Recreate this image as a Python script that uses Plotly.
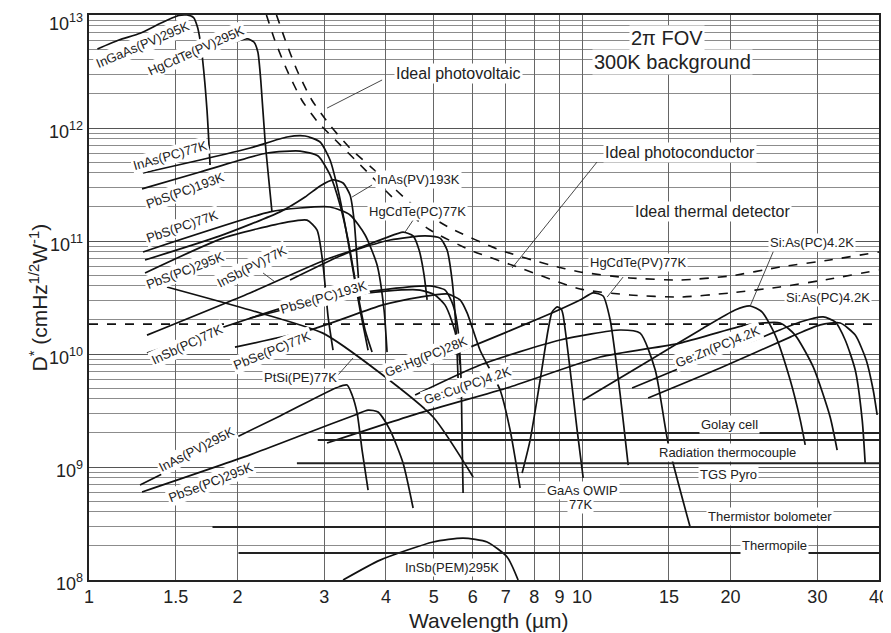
import plotly.graph_objects as go

# ---------------- data (wavelength in um, D* in cm Hz^1/2 W^-1) ----------------
ingaas_pv295_x = [1.04, 1.15, 1.27, 1.40, 1.52, 1.58, 1.63, 1.66, 1.68, 1.70, 1.735, 1.76]
ingaas_pv295_y = [5.0e12, 6.0e12, 6.9e12, 8.5e12, 9.9e12, 1.0e13, 9.5e12, 7.8e12, 6.0e12, 4.0e12, 1.44e12, 4.7e11]

hgcdte_pv295_x = [1.374, 1.68, 2.025, 2.10, 2.16, 2.20, 2.23, 2.275, 2.35]
hgcdte_pv295_y = [2.94e12, 4.43e12, 6.0e12, 6.14e12, 5.77e12, 4.71e12, 2.66e12, 7.83e11, 1.81e11]

inas_pc77_x = [1.287, 1.68, 2.121, 2.521, 2.743, 2.942, 3.082, 3.199, 3.306, 3.416, 3.546, 3.681]
inas_pc77_y = [4.0e11, 5.21e11, 6.65e11, 8.32e11, 8.49e11, 7.52e11, 5.21e11, 2.83e11, 1.39e11, 6.13e10, 2.45e10, 1.08e10]

pbs_pc193_x = [1.281, 1.68, 2.297, 2.679, 2.914, 3.082, 3.229, 3.353, 3.480, 3.630, 3.750]
pbs_pc193_y = [2.89e11, 4.08e11, 6.01e11, 6.25e11, 5.65e11, 3.84e11, 2.08e11, 1.02e11, 4.08e10, 1.63e10, 1.04e10]

pbs_pc77_x = [1.287, 2.328, 2.679, 3.082, 3.384, 3.630, 3.839, 3.966, 4.022]
pbs_pc77_y = [8.0e10, 1.81e11, 1.96e11, 2.00e11, 1.70e11, 1.13e11, 6.13e10, 2.45e10, 1.04e10]

inas_pv193_x = [1.299, 1.844, 2.44, 2.743, 2.942, 3.125, 3.275, 3.384, 3.448, 3.497, 3.546]
inas_pv193_y = [6.79e10, 1.11e11, 1.81e11, 2.45e11, 3.07e11, 3.47e11, 3.26e11, 2.55e11, 1.53e11, 6.79e10, 3.01e10]

pbs_pc295_x = [1.299, 1.870, 2.521, 2.768, 2.901, 2.983, 3.054, 3.125]
pbs_pc295_y = [5.21e10, 1.06e11, 1.47e11, 1.53e11, 1.25e11, 6.13e10, 2.13e10, 1.08e10]

insb_pv77_x = [1.311, 2.121, 3.082, 4.079, 4.803, 5.152, 5.323, 5.448, 5.551, 5.603]
insb_pv77_y = [1.47e10, 3.47e10, 7.07e10, 1.02e11, 1.11e11, 1.06e11, 8.32e10, 4.52e10, 1.63e10, 6.13e9]

hgcdte_pc77_x = [2.557, 3.229, 3.985, 4.335, 4.542, 4.671, 4.781, 4.849]
hgcdte_pc77_y = [4.52e10, 7.36e10, 1.06e11, 1.20e11, 1.11e11, 8.32e10, 5.0e10, 3.01e10]

insb_pc77_x = [1.311, 2.679, 3.893, 4.916, 5.274, 5.473, 5.603, 5.683, 5.710, 5.736]
insb_pc77_y = [1.02e10, 2.83e10, 3.68e10, 4.0e10, 3.68e10, 2.72e10, 1.63e10, 5.89e9, 1.73e9, 5.89e8]

pbse_pc193_x = [2.12, 3.12, 4.0, 4.69, 5.03, 5.27, 5.45, 5.58, 5.66]
pbse_pc193_y = [2.08e10, 3.13e10, 3.60e10, 3.68e10, 3.33e10, 2.72e10, 1.92e10, 1.30e10, 8.0e9]

pbse_pc77_x = [1.977, 2.807, 3.948, 4.692, 5.323, 5.656, 5.845, 6.21, 6.818, 7.145, 7.486]
pbse_pc77_y = [1.15e10, 1.63e10, 2.72e10, 3.19e10, 3.40e10, 3.01e10, 2.31e10, 1.08e10, 4.80e9, 2.12e9, 6.52e8]

ptsi_pe77_x = [1.439, 2.121, 2.98, 3.893, 4.987, 6.011]
ptsi_pe77_y = [3.92e10, 2.45e10, 1.53e10, 6.79e9, 2.77e9, 8.16e8]

inas_pv295_x = [1.269, 1.68, 2.44, 3.199, 3.337, 3.416, 3.497, 3.579, 3.681]
inas_pv295_y = [6.93e8, 1.28e9, 2.83e9, 5.11e9, 5.32e9, 4.34e9, 3.01e9, 1.41e9, 6.25e8]

pbse_pc295_x = [1.281, 2.121, 2.807, 3.464, 3.681, 3.857, 4.079, 4.335, 4.542]
pbse_pc295_y = [6.01e8, 1.28e9, 2.04e9, 2.89e9, 3.19e9, 3.07e9, 2.12e9, 1.08e9, 4.34e8]

insb_pem295_x = [3.275, 3.893, 4.987, 5.736, 6.416, 7.045, 7.417]
insb_pem295_y = [1.0e8, 1.50e8, 2.17e8, 2.35e8, 2.17e8, 1.60e8, 1.0e8]

gaas_qwip77_x = [7.557, 7.845, 8.221, 8.531, 8.69, 8.898, 9.07, 9.151, 9.456, 9.770, 10.05]
gaas_qwip77_y = [8.86e8, 1.73e9, 5.89e9, 1.63e10, 2.35e10, 2.61e10, 2.50e10, 2.21e10, 7.22e9, 2.12e9, 8.0e8]

hgcdte_pv77_x = [4.542, 5.927, 8.221, 9.908, 10.53, 11.03, 11.40, 11.78, 12.11, 12.40]
hgcdte_pv77_y = [7.22e9, 1.15e10, 2.08e10, 3.01e10, 3.47e10, 3.26e10, 2.00e10, 7.22e9, 2.61e9, 1.04e9]

gehg_pc28_x = [4.585, 6.21, 9.024, 11.94, 13.11, 14.07, 14.94, 16.56]
gehg_pc28_y = [4.34e9, 8.0e9, 1.33e10, 1.63e10, 1.53e10, 7.22e9, 1.63e9, 2.94e8]

gecu_pc42_x = [3.039, 4.692, 7.145, 10.88, 15.81, 21.61, 25.21, 27.04, 29.42, 31.84, 32.90]
gecu_pc42_y = [1.63e9, 3.01e9, 5.11e9, 9.40e9, 1.25e10, 1.81e10, 1.88e10, 1.47e10, 7.68e9, 2.77e9, 1.41e9]

sias_a_x = [10.05, 13.74, 17.35, 20.43, 21.92, 23.18, 24.64, 26.42, 27.69, 28.34]
sias_a_y = [3.92e9, 8.86e9, 1.63e10, 2.45e10, 2.66e10, 2.35e10, 1.47e10, 5.89e9, 2.61e9, 1.57e9]

sias_b_x = [12.63, 17.35, 22.97, 27.69, 30.82, 32.60, 34.16, 35.80, 36.98, 37.50]
sias_b_y = [5.0e9, 8.86e9, 1.39e10, 1.92e10, 2.13e10, 1.92e10, 1.33e10, 7.22e9, 2.61e9, 1.08e9]

gezn_pc42_x = [13.61, 19.06, 26.42, 30.40, 33.37, 35.80, 37.68, 38.93, 39.66]
gezn_pc42_y = [4.08e9, 7.52e9, 1.41e10, 1.81e10, 1.88e10, 1.47e10, 8.86e9, 4.80e9, 2.89e9]

ideal_pv_x = [2.40, 2.50, 2.64, 2.83, 3.08, 3.38, 3.89, 4.54, 5.40, 6.82, 8.61, 9.91, 12.5, 15.8, 19.96, 25.2, 31.8, 40.0]
ideal_pv_y = [1.0e13, 6.01e12, 3.26e12, 1.77e12, 1.06e12, 6.66e11, 3.84e11, 2.08e11, 1.30e11, 8.32e10, 6.13e10, 5.32e10, 4.71e10, 4.52e10, 4.90e10, 5.89e10, 6.79e10, 8.0e10]

ideal_pc_x = [2.29, 2.38, 2.52, 2.70, 2.91, 3.16, 3.55, 4.08, 4.85, 5.93, 7.49, 9.91, 12.5, 15.8, 19.96, 25.2, 31.8, 40.0]
ideal_pc_y = [1.0e13, 6.01e12, 3.26e12, 1.77e12, 1.13e12, 7.83e11, 4.71e11, 2.55e11, 1.30e11, 8.32e10, 5.77e10, 3.76e10, 3.33e10, 3.19e10, 3.47e10, 3.92e10, 4.61e10, 5.54e10]

ideal_thermal_x = [1.0, 40.0]
ideal_thermal_y = [1.84e10, 1.84e10]

# thermal detectors: [start wavelength, end wavelength], level
golay_x, golay_y = [3.0, 40.0], [2.0e9, 2.0e9]
golay2_x, golay2_y = [2.91, 40.0], [1.73e9, 1.73e9]
thermocouple_x, thermocouple_y = [2.64, 40.0], [1.08e9, 1.08e9]
thermistor_x, thermistor_y = [1.78, 40.0], [2.94e8, 2.94e8]
thermopile_x, thermopile_y = [2.01, 40.0], [1.73e8, 1.73e8]

# leader lines (label -> curve)
leaders = [
    ([3.93, 3.039], [2.66e12, 1.50e12]),   # ideal photovoltaic
    ([10.72, 7.21], [5.0e11, 5.77e10]),    # ideal photoconductor
    ([3.75, 3.416], [3.13e11, 2.45e11]),   # InAs(PV)193K
    ([4.542, 4.375], [1.53e11, 1.20e11]),  # HgCdTe(PC)77K
    ([2.254, 2.384], [5.21e10, 4.34e10]),  # InSb(PV)77K
    ([3.199, 3.431], [6.52e9, 9.22e9]),    # PtSi(PE)77K
    ([12.11, 11.24], [4.80e10, 3.19e10]),  # HgCdTe(PV)77K
    ([24.64, 21.92], [8.86e10, 2.66e10]),  # Si:As upper
]

x_ticks = [1, 1.5, 2, 3, 4, 5, 6, 7, 8, 9, 10, 15, 20, 30, 40]
x_ticktext = ["1", "1.5", "2", "3", "4", "5", "6", "7", "8", "9", "10", "15", "20", "30", "40"]
y_ticks = [1e8, 1e9, 1e10, 1e11, 1e12, 1e13]
y_ticktext = ["10<sup>8</sup>", "10<sup>9</sup>", "10<sup>10</sup>", "10<sup>11</sup>", "10<sup>12</sup>", "10<sup>13</sup>"]
y_minor = [m * 10 ** e for e in range(8, 13) for m in range(2, 10)]

# labels: text, log10(x), log10(y), angle, size
labels = [
    ("InGaAs(PV)295K", 0.1095, 12.735, -23, 13),
    ("HgCdTe(PV)295K", 0.217, 12.690, -24, 13),
    ("InAs(PC)77K", 0.1643, 11.761, -16, 13),
    ("PbS(PC)193K", 0.1947, 11.451, -20, 13),
    ("PbS(PC)77K", 0.1886, 11.124, -19, 13),
    ("PbS(PC)295K", 0.1947, 10.743, -21, 13),
    ("InSb(PV)77K", 0.3306, 10.770, -27, 13),
    ("PbSe(PC)193K", 0.4746, 10.504, -16, 13),
    ("InAs(PV)193K", 0.6673, 11.540, 0, 13),
    ("HgCdTe(PC)77K", 0.6653, 11.257, 0, 13),
    ("InSb(PC)77K", 0.1988, 10.080, -25, 13),
    ("PbSe(PC)77K", 0.3712, 10.035, -22, 13),
    ("PtSi(PE)77K", 0.428, 9.796, 0, 13),
    ("Ge:Hg(PC)28K", 0.6836, 9.982, -22, 13),
    ("Ge:Cu(PC)4.2K", 0.7667, 9.717, -19, 13),
    ("HgCdTe(PV)77K", 1.1136, 10.814, 0, 13),
    ("Si:As(PC)4.2K", 1.4665, 10.991, 0, 13),
    ("Si:As(PC)4.2K", 1.499, 10.496, 0, 13),
    ("Ge:Zn(PC)4.2K", 1.2759, 10.062, -22, 13),
    ("GaAs QWIP", 1.0, 8.796, 0, 13),
    ("77K", 0.996, 8.664, 0, 13),
    ("Golay cell", 1.2982, 9.372, 0, 13),
    ("Radiation thermocouple", 1.2941, 9.124, 0, 13),
    ("TGS Pyro", 1.2961, 8.938, 0, 13),
    ("Thermistor bolometer", 1.3813, 8.558, 0, 13),
    ("Thermopile", 1.3895, 8.301, 0, 13),
    ("InSb(PEM)295K", 0.7363, 8.115, 0, 13),
    ("InAs(PV)295K", 0.217, 9.159, -27, 13),
    ("PbSe(PC)295K", 0.2454, 8.867, -21, 13),
    ("Ideal photovoltaic", 0.7485, 12.478, 0, 16),
    ("Ideal photoconductor", 1.1988, 11.779, 0, 16),
    ("Ideal thermal detector", 1.2637, 11.257, 0, 16),
    ("2\u03c0 FOV", 1.1724, 12.796, 0, 20),
    ("300K background", 1.1826, 12.584, 0, 20),
]

curves = [
    (ingaas_pv295_x, ingaas_pv295_y), (hgcdte_pv295_x, hgcdte_pv295_y),
    (inas_pc77_x, inas_pc77_y), (pbs_pc193_x, pbs_pc193_y), (pbs_pc77_x, pbs_pc77_y),
    (inas_pv193_x, inas_pv193_y), (pbs_pc295_x, pbs_pc295_y), (insb_pv77_x, insb_pv77_y),
    (hgcdte_pc77_x, hgcdte_pc77_y), (insb_pc77_x, insb_pc77_y), (pbse_pc193_x, pbse_pc193_y),
    (pbse_pc77_x, pbse_pc77_y), (ptsi_pe77_x, ptsi_pe77_y), (inas_pv295_x, inas_pv295_y),
    (pbse_pc295_x, pbse_pc295_y), (insb_pem295_x, insb_pem295_y), (gaas_qwip77_x, gaas_qwip77_y),
    (hgcdte_pv77_x, hgcdte_pv77_y), (gehg_pc28_x, gehg_pc28_y), (gecu_pc42_x, gecu_pc42_y),
    (sias_a_x, sias_a_y), (sias_b_x, sias_b_y), (gezn_pc42_x, gezn_pc42_y),
]
thermal = [(golay_x, golay_y), (golay2_x, golay2_y), (thermocouple_x, thermocouple_y),
           (thermistor_x, thermistor_y), (thermopile_x, thermopile_y)]

FONT = "Liberation Sans, Arial, sans-serif"
fig = go.Figure()

for xs, ys in curves:
    fig.add_trace(go.Scatter(x=xs, y=ys, mode="lines", line=dict(color="#111", width=1.7, shape="spline", smoothing=0.6),
                             hoverinfo="skip", showlegend=False, cliponaxis=True))
for xs, ys in thermal:
    fig.add_trace(go.Scatter(x=xs, y=ys, mode="lines", line=dict(color="#222", width=2),
                             hoverinfo="skip", showlegend=False))
for xs, ys in [(ideal_pv_x, ideal_pv_y), (ideal_pc_x, ideal_pc_y)]:
    fig.add_trace(go.Scatter(x=xs, y=ys, mode="lines", line=dict(color="#111", width=1.6, dash="dash", shape="spline", smoothing=0.6),
                             hoverinfo="skip", showlegend=False))
fig.add_trace(go.Scatter(x=ideal_thermal_x, y=ideal_thermal_y, mode="lines", line=dict(color="#111", width=1.8, dash="dash"),
                         hoverinfo="skip", showlegend=False))
for xs, ys in leaders:
    fig.add_trace(go.Scatter(x=xs, y=ys, mode="lines", line=dict(color="#333", width=0.9),
                             hoverinfo="skip", showlegend=False))

for text, lx, ly, ang, size in labels:
    fig.add_annotation(x=lx, y=ly, xref="x", yref="y", text=text, showarrow=False, textangle=ang,
                       font=dict(family=FONT, size=size, color="#222"), bgcolor="white", borderpad=1)

# y tick labels drawn as text next to the axis, so the top one stays fully visible
for val, txt in zip(y_ticks, y_ticktext):
    shift = -7 if val == y_ticks[-1] else -2
    fig.add_annotation(x=-0.005, y=len(str(int(val))) - 1, xref="paper", yref="y", xanchor="right", yanchor="middle",
                       yshift=shift, text=txt, showarrow=False, font=dict(family=FONT, size=18, color="#222"))

fig.add_annotation(x=0.506, y=-0.071, xref="paper", yref="paper", yanchor="middle",
                   text="Wavelength (\u00b5m)", showarrow=False,
                   font=dict(family=FONT, size=21, color="#222"))
fig.add_annotation(x=-0.0835, y=0.5, xref="paper", yref="paper",
                   text="D<sup>*</sup> (cmHz<sup>1/2</sup>W<sup>-1</sup>)", showarrow=False, textangle=-90,
                   font=dict(family=FONT, size=21, color="#222"))

# page body keeps an 8 px default margin, so the figure is sized/offset to put the plot area
# at the same place as in the reference picture
fig.update_layout(
    width=883, height=625, margin=dict(l=81, r=12, t=7, b=53, autoexpand=False),
    paper_bgcolor="white", plot_bgcolor="white",
    xaxis=dict(type="log", range=[0, 1.60206], tickvals=x_ticks, ticktext=x_ticktext, automargin=False,
               ticklabeloverflow="allow",
               showgrid=True, gridcolor="#666", gridwidth=1, showline=True, linecolor="#222", linewidth=1.5,
               mirror=True, ticks="", ticklen=0, tickfont=dict(family=FONT, size=18, color="#222"), zeroline=False),
    yaxis=dict(type="log", range=[8, 13], tickvals=y_ticks, showticklabels=False, automargin=False,
               showgrid=True, gridcolor="#555", gridwidth=1.2, showline=True, linecolor="#222", linewidth=1.5,
               mirror=True, ticks="", ticklen=0, zeroline=False,
               minor=dict(tickvals=y_minor, showgrid=True, gridcolor="#8c8c8c", gridwidth=1, ticks="")),
)

fig.write_html("out.html")
